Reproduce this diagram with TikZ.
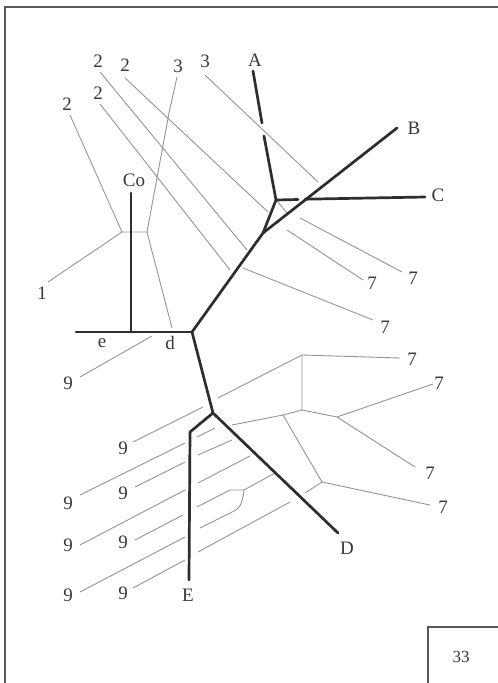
\documentclass[tikz,border=0pt]{standalone}
\usepackage{fontspec}
\setmainfont{Liberation Serif}
\begin{document}
\begin{tikzpicture}[x=1pt,y=-1pt,
  fault/.style={line width=2.7pt,draw=black!82,line cap=round,line join=round},
  contact/.style={line width=0.9pt,draw=black!42,line join=round},
  frameline/.style={line width=1.8pt,draw=black!65},
  lab/.style={font=\fontsize{19}{21}\selectfont,text=black!78,inner sep=0pt}]
\useasboundingbox (0,0) rectangle (498,683);
\fill[white] (0,0) rectangle (498,683);
% frame
\coordinate (F1) at (5,683); \coordinate (F2) at (5,7); \coordinate (F3) at (498,7);
\draw[frameline] (F1) -- (F2) -- (F3);
\coordinate (K1) at (428,683); \coordinate (K2) at (428,627); \coordinate (K3) at (498,627);
\draw[frameline,line width=1.4pt] (K1) -- (K2) -- (K3);
\node[lab,font=\fontsize{17}{19}\selectfont] (n33) at (461,657) {33};
% ---------- fault coordinates
\coordinate (Atop) at (253,71);
\coordinate (Ag1) at (262,123);
\coordinate (Ag2) at (264,136);
\coordinate (J1) at (276,200);
\coordinate (Cg1) at (298,199.5);
\coordinate (Cg2) at (305,199.2);
\coordinate (Cend) at (425,197);
\coordinate (Bend) at (397,128);
\coordinate (J2) at (263,233);
\coordinate (J3) at (192,332);
\coordinate (eEnd) at (76,332);
\coordinate (CoTop) at (131,193);
\coordinate (CoBot) at (131,332);
\coordinate (J4) at (213,413);
\coordinate (Dend) at (338,533);
\coordinate (Etop) at (190,432);
\coordinate (Ebot) at (189,580);
% ---------- thin lines (upper)
\coordinate (u1s) at (70,115);
\coordinate (P1) at (122,232);
\coordinate (u1e) at (48,282);
\coordinate (P2) at (147,232);
\coordinate (u3s) at (177,77);
\coordinate (u3m) at (169,113);
\coordinate (u1d) at (172,328);
\coordinate (as) at (125,78);   \coordinate (ae) at (268,212);
\coordinate (bs) at (100,72);   \coordinate (be) at (247,250);
\coordinate (gs) at (100,104);  \coordinate (ge) at (230,270);
\coordinate (grs) at (243,268); \coordinate (gre) at (373,320);
\coordinate (ds) at (205,75);   \coordinate (de) at (318,182);
\coordinate (r1s) at (287,230); \coordinate (r1e) at (363,280);
\coordinate (r2s) at (300,218); \coordinate (r2e) at (402,272);
\coordinate (tri) at (287,213);
\coordinate (n9s) at (80,377);  \coordinate (n9e) at (152,336);
\draw[contact] (u1s) -- (P1) -- (u1e);
\draw[contact] (P1) -- (P2) -- (u1d);
\draw[contact] (P2) -- (u3m) -- (u3s);
\draw[contact] (as) -- (ae);
\draw[contact] (bs) -- (be);
\draw[contact] (gs) -- (ge);
\draw[contact] (grs) -- (gre);
\draw[contact] (ds) -- (de);
\draw[contact] (r1s) -- (r1e);
\draw[contact] (r2s) -- (r2e);
\draw[contact] (J1) -- (tri);
\draw[contact] (n9s) -- (n9e);
% ---------- thin lines (lower)
\coordinate (N1) at (302,355);
\coordinate (N2) at (302,410);
\coordinate (N3) at (337,417);
\coordinate (N4) at (283,415);
\coordinate (N5) at (322,482);
\coordinate (t1) at (400,358);
\coordinate (t2) at (433,384);
\coordinate (t3) at (415,467);
\coordinate (t4) at (430,505);
\draw[contact] (N1) -- (t1);
\draw[contact] (N1) -- (N2) -- (N3) -- (t2);
\draw[contact] (N3) -- (t3);
\draw[contact] (N4) -- (N2);
\draw[contact] (N4) -- (N5) -- (t4);
\coordinate (L1a) at (133,442); \coordinate (L1b) at (203,407); \coordinate (L1c) at (218,398);
\draw[contact] (L1a) -- (L1b);
\draw[contact] (L1c) -- (N1);
\coordinate (L2a) at (80,495); \coordinate (L2b) at (185,443); \coordinate (L2c) at (197,437);
\coordinate (L2d) at (215,428); \coordinate (L2e) at (232,425);
\draw[contact] (L2a) -- (L2b);
\draw[contact] (L2c) -- (L2d);
\draw[contact] (L2e) -- (N4);
\coordinate (L3a) at (135,487); \coordinate (L3b) at (185,462); \coordinate (L3c) at (198,455); \coordinate (L3d) at (232,440);
\draw[contact] (L3a) -- (L3b);
\draw[contact] (L3c) -- (L3d);
\coordinate (L4a) at (80,545); \coordinate (L4b) at (185,490); \coordinate (L4c) at (198,483); \coordinate (L4d) at (250,456);
\draw[contact] (L4a) -- (L4b);
\draw[contact] (L4c) -- (L4d);
\coordinate (L5a) at (135,540); \coordinate (L5b) at (183,515); \coordinate (L5c) at (197,507);
\coordinate (L5d) at (230,490); \coordinate (M) at (244,490); \coordinate (L5e) at (275,473);
\draw[contact] (L5a) -- (L5b);
\draw[contact] (L5c) -- (L5d) -- (M) -- (L5e);
\coordinate (L6a) at (80,592); \coordinate (L6b) at (185,537); \coordinate (L6c) at (200,528); \coordinate (L6d) at (236,510);
\draw[contact] (L6a) -- (L6b);
\draw[contact] (L6c) -- (L6d) .. controls (242,506) and (243,497) .. (M);
\coordinate (L7a) at (133,588); \coordinate (L7b) at (185,560); \coordinate (L7c) at (198,552);
\coordinate (L7d) at (290,502); \coordinate (L7e) at (305,493);
\draw[contact] (L7a) -- (L7b);
\draw[contact] (L7c) -- (L7d);
\draw[contact] (L7e) -- (N5);
% ---------- faults drawn on top
\draw[fault] (Atop) -- (Ag1);
\draw[fault] (Ag2) -- (J1) -- (Cg1);
\draw[fault] (Cg2) -- (Cend);
\draw[fault] (J1) -- (J2);
\draw[fault] (Bend) -- (J2) -- (J3) -- (J4) -- (Dend);
\draw[fault] (J4) -- (Etop) -- (Ebot);
\draw[fault] (eEnd) -- (J3);
\draw[fault] (CoTop) -- (CoBot);
% ---------- labels
\node[lab] (lA) at (255,60) {A};
\node[lab] (lB) at (414,128) {B};
\node[lab] (lC) at (438,195) {C};
\node[lab] (lD) at (347,548) {D};
\node[lab] (lE) at (188,595) {E};
\node[lab] (lCo) at (134,180) {Co};
\node[lab] (le) at (102,343) {e};
\node[lab] (ld) at (170,343) {d};
\node[lab] (l1) at (42,293) {1};
\node[lab] (l2a) at (67,104) {2};
\node[lab] (l2b) at (98,61) {2};
\node[lab] (l2c) at (125,65) {2};
\node[lab] (l2d) at (98,93) {2};
\node[lab] (l3a) at (178,66) {3};
\node[lab] (l3b) at (205,61) {3};
\node[lab] (l7a) at (372,283) {7};
\node[lab] (l7b) at (413,278) {7};
\node[lab] (l7c) at (385,327) {7};
\node[lab] (l7d) at (412,359) {7};
\node[lab] (l7e) at (439,383) {7};
\node[lab] (l7f) at (430,473) {7};
\node[lab] (l7g) at (443,507) {7};
\node[lab] (l9a) at (68,383) {9};
\node[lab] (l9b) at (123,448) {9};
\node[lab] (l9c) at (68,503) {9};
\node[lab] (l9d) at (123,493) {9};
\node[lab] (l9e) at (68,545) {9};
\node[lab] (l9f) at (123,542) {9};
\node[lab] (l9g) at (68,595) {9};
\node[lab] (l9h) at (123,593) {9};
\end{tikzpicture}
\end{document}
